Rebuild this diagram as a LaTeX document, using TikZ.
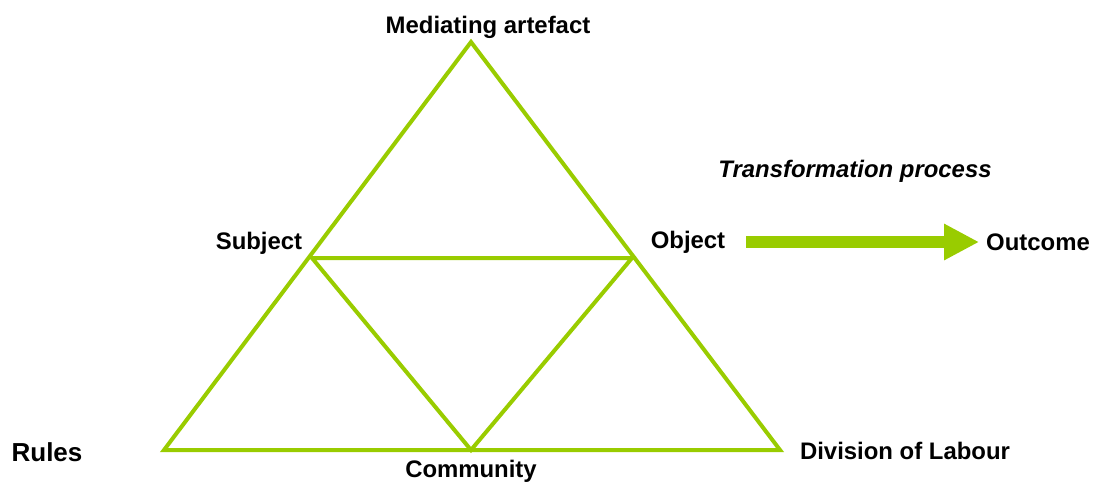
\documentclass[tikz,border=0pt]{standalone}
\usepackage{fontspec}
\setmainfont{Liberation Sans}
\definecolor{atgreen}{HTML}{99CC00}
\usetikzlibrary{arrows.meta, positioning}

\begin{document}
\begin{tikzpicture}[x=0.025cm, y=-0.025cm,
        lbl/.style={font=\fontsize{17}{20}\selectfont\bfseries, inner sep=2pt},
        edge/.style={draw=atgreen, line width=0.1cm, line join=miter}
      ]
        \useasboundingbox (0,0) rectangle (1097,483);

        % corners of the triangle
        \coordinate (ma) at (471,42);
        \coordinate (ru) at (164,450);
        \coordinate (dl) at (780,450);
        \coordinate (su) at (312,258);
        \coordinate (ob) at (632,258);
        \coordinate (co) at (471,450);

        \draw[edge] (ma) -- (dl) -- (ru) -- cycle;
        \draw[edge] (su) -- (ob) -- (co) -- cycle;

        \node[lbl] (mediating) at (488,27) {Mediating artefact};
        \node[lbl] (subject) at (259,243) {Subject};
        \node[lbl] (object) at (688,242) {Object};
        \node[lbl] (outcome) at (1038,242) {Outcome};
        \node[lbl, font=\fontsize{18.5}{22}\selectfont\bfseries] (rules) at (47,452) {Rules};
        \node[lbl] (community) at (471,471) {Community};
        \node[lbl] (division) at (905,451) {Division of Labour};
        \node[lbl, font=\fontsize{17}{20}\selectfont\bfseries\itshape] (process) at (855,171) {Transformation process};

        \draw[atgreen, line width=0.3cm, -{Triangle[length=0.875cm, width=0.85cm]},
              shorten <=0.45cm, shorten >=0.1cm] (object) -- (outcome);
      \end{tikzpicture}
\end{document}
